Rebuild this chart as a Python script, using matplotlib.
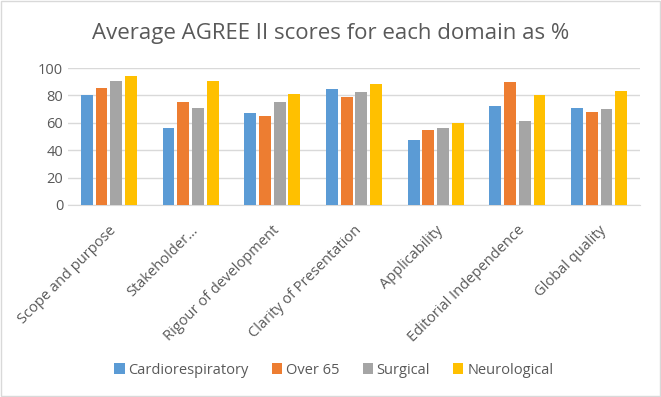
import numpy as np
import matplotlib.pyplot as plt
from matplotlib.patches import Rectangle

domains = ['Scope and purpose', 'Stakeholder…', 'Rigour of development',
           'Clarity of Presentation', 'Applicability', 'Editorial Independence',
           'Global quality']
series = ['Cardiorespiratory', 'Over 65', 'Surgical', 'Neurological']
cardio = [80, 56, 67, 85, 47.5, 72.5, 71]
over65 = [85.5, 75, 65, 78.5, 54.5, 89.5, 68]
surgical = [90.5, 71, 75, 82.5, 56, 61, 70]
neuro = [94.5, 90.5, 81, 88, 60, 80, 83]
colors = ['#5B9BD5', '#ED7D31', '#A5A5A5', '#FFC000']

plt.rcParams['font.family'] = ['Open Sans', 'DejaVu Sans']

fig = plt.figure(figsize=(6.61, 3.97), dpi=100)
ax = fig.add_axes([68 / 661, 1 - 205 / 397, 572 / 661, 137 / 397])

x = np.arange(len(domains))
step = 0.18
width = 0.145
for i, (vals, c) in enumerate(zip([cardio, over65, surgical, neuro], colors)):
    ax.bar(x + (i - 1.5) * step, vals, width, color=c, label=series[i], zorder=3)

ax.set_xlim(-0.5, len(domains) - 0.5)
ax.set_ylim(0, 100)
ax.set_yticks(range(0, 101, 20))
ax.yaxis.grid(True, color='#D9D9D9', linewidth=1, zorder=0)
ax.set_xticks(x)
ax.set_xticklabels(domains, rotation=45, ha='right', rotation_mode='anchor',
                   fontsize=10.5, color='#595959')
ax.tick_params(axis='both', length=0, labelsize=10.5, colors='#595959')
ax.tick_params(axis='x', pad=13)
for s in ['top', 'right', 'left']:
    ax.spines[s].set_visible(False)
ax.spines['bottom'].set_color('#D9D9D9')

fig.text(0.5, 1 - 33 / 397, 'Average AGREE II scores for each domain as %',
         ha='center', va='center', fontsize=16, color='#595959')

fig.legend(loc='center', bbox_to_anchor=(0.505, 1 - 370 / 397), ncol=4, frameon=False,
           fontsize=10.5, handlelength=0.7, handleheight=0.7, handletextpad=0.25,
           columnspacing=1.6, labelcolor='#595959')

fig.patches.append(Rectangle((0.002, 0.002), 0.996, 0.996, transform=fig.transFigure,
                             fill=False, edgecolor='#D9D9D9', linewidth=1))

fig.savefig('out.png', dpi=100)
